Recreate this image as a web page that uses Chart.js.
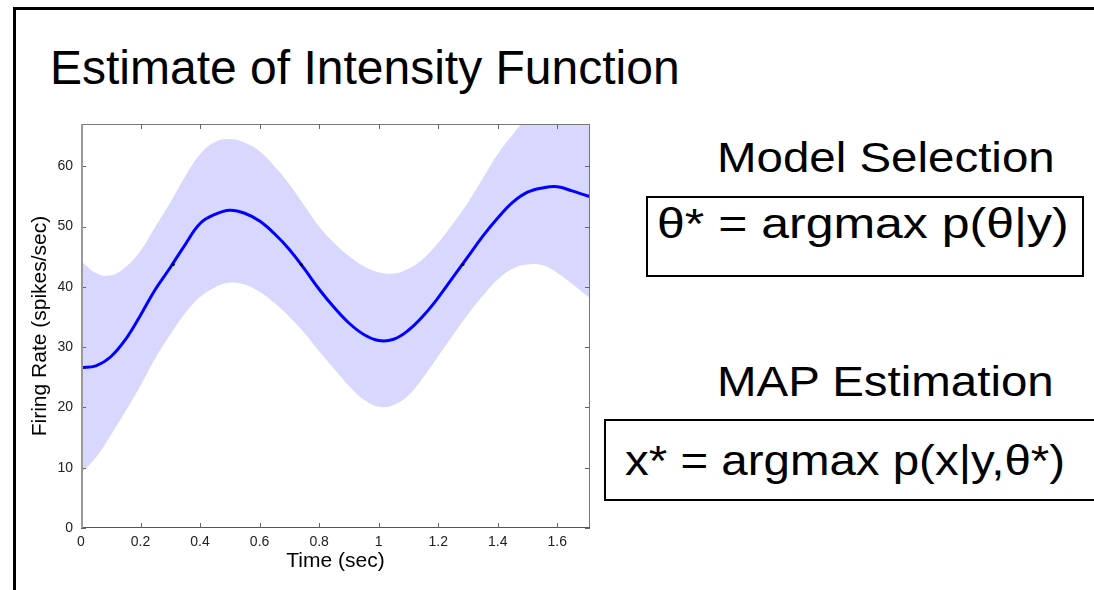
<!DOCTYPE html>
<html>
<head>
<meta charset="utf-8">
<script src="https://cdn.jsdelivr.net/npm/chart.js@4/dist/chart.umd.min.js"></script>
<style>
  html, body { margin: 0; padding: 0; background: #fff; overflow: hidden; }
  body { width: 1094px; height: 590px; position: relative;
         font-family: "Liberation Sans", Arial, Helvetica, sans-serif; color: #000; }
  .frame { position: absolute; left: 13px; top: 7px; width: 1078px; height: 580px;
           border-left: 3px solid #000; border-top: 3px solid #000; }
  .txt { position: absolute; line-height: 1; white-space: nowrap; transform-origin: 0 0; }
  .box { position: absolute; border: 2.5px solid #000; box-sizing: border-box; }
  #plot { position: absolute; left: 0; top: 100px; width: 600px; height: 490px; }
</style>
</head>
<body>
<div class="frame"></div>
<div class="txt" style="left:50px; top:44px; font-size:48px;">Estimate of Intensity Function</div>

<div class="txt" style="left:717px; top:137px; font-size:42px; transform:scaleX(1.13);">Model Selection</div>
<div class="box" style="left:646px; top:196px; width:438px; height:81px;"></div>
<div class="txt" style="left:657px; top:203px; font-size:42px; transform:scaleX(1.19);">θ* = argmax p(θ|y)</div>

<div class="txt" style="left:717px; top:361px; font-size:42px; transform:scaleX(1.13);">MAP Estimation</div>
<div class="box" style="left:604px; top:419px; width:490px; height:82px; border-right:none;"></div>
<div class="txt" style="left:625px; top:440px; font-size:42px; transform:scaleX(1.13);">x* = argmax p(x|y,θ*)</div>

<div id="plot"><canvas id="chart" width="600" height="490"></canvas></div>

<script>
// values
var timeSec = [0, 0.05, 0.1, 0.15, 0.2, 0.25, 0.3, 0.35, 0.4, 0.45, 0.5, 0.55, 0.6, 0.65, 0.7, 0.75, 0.8, 0.85,
               0.9, 0.95, 1.0, 1.05, 1.1, 1.15, 1.2, 1.25, 1.3, 1.35, 1.4, 1.45, 1.5, 1.55, 1.6, 1.65, 1.7, 1.71];
var meanRate = [26.6, 26.9, 28.4, 31.3, 35.3, 39.6, 43.2, 47.0, 50.5, 52.0, 52.7, 52.2, 50.9, 48.8, 46.2, 43.0, 39.6, 36.6,
                34.0, 32.1, 31.1, 31.3, 32.8, 35.2, 38.2, 41.6, 45.0, 48.4, 51.4, 54.0, 55.7, 56.4, 56.6, 55.9, 55.1, 55.0];
var upperRate = [44.3, 42.3, 41.9, 43.3, 46.0, 50.0, 54.0, 58.3, 62.0, 64.0, 64.5, 63.9, 62.5, 60.0, 57.0, 53.5, 50.0, 47.3,
                 45.1, 43.4, 42.4, 42.2, 43.0, 44.7, 47.3, 50.5, 54.0, 58.0, 62.0, 65.2, 68.1, 69.3, 70.0, 70.7, 71.5, 71.6];
var lowerRate = [9.1, 11.7, 15.4, 19.4, 23.6, 28.2, 32.1, 35.6, 38.3, 39.9, 40.7, 40.4, 39.2, 37.3, 35.0, 32.4, 29.3, 26.4,
                 23.6, 21.3, 20.1, 20.4, 22.0, 25.0, 28.5, 32.0, 35.4, 38.5, 41.2, 43.0, 43.7, 43.6, 42.3, 40.5, 38.5, 38.2];
var markTimes = [0.31, 0.74, 1.283];
var markRates = [43.7, 43.7, 43.7];
var xTicks = [0, 0.2, 0.4, 0.6, 0.8, 1, 1.2, 1.4, 1.6];
var yTicks = [0, 10, 20, 30, 40, 50, 60];

function pts(xs, ys) {
    return xs.map(function (x, i) { return { x: x, y: ys[i] }; });
}

// matlab-like axes box with inward ticks on all four sides
var boxPlugin = {
    id: 'matlabBox',
    afterDatasetsDraw: function (chart) {
        var ctx = chart.ctx, a = chart.chartArea;
        var xs = chart.scales.x, ys = chart.scales.y;
        ctx.save();
        ctx.lineWidth = 1;
        ctx.strokeStyle = '#777';
        ctx.beginPath();
        ctx.moveTo(a.left, a.top + 0.5); ctx.lineTo(a.right, a.top + 0.5);
        ctx.moveTo(a.right - 0.5, a.top); ctx.lineTo(a.right - 0.5, a.bottom);
        ctx.stroke();
        ctx.strokeStyle = '#555';
        ctx.beginPath();
        ctx.moveTo(a.left, a.bottom - 0.5); ctx.lineTo(a.right, a.bottom - 0.5);
        ctx.stroke();
        ctx.strokeStyle = '#666';
        xs.ticks.forEach(function (t) {
            var px = Math.round(xs.getPixelForValue(t.value)) + 0.5;
            ctx.beginPath();
            ctx.moveTo(px, a.bottom); ctx.lineTo(px, a.bottom - 5);
            ctx.moveTo(px, a.top); ctx.lineTo(px, a.top + 5);
            ctx.stroke();
        });
        ys.ticks.forEach(function (t) {
            var py = Math.round(ys.getPixelForValue(t.value)) + 0.5;
            ctx.beginPath();
            ctx.moveTo(a.left, py); ctx.lineTo(a.left + 5, py);
            ctx.moveTo(a.right, py); ctx.lineTo(a.right - 5, py);
            ctx.stroke();
        });
        ctx.strokeStyle = '#999';
        ctx.lineWidth = 2;
        ctx.beginPath();
        ctx.moveTo(a.left + 1, a.top); ctx.lineTo(a.left + 1, a.bottom);
        ctx.stroke();
        ctx.restore();
    }
};

var tickFont = { family: '"Liberation Sans", Arial, Helvetica, sans-serif', size: 14 };
var titleFont = { family: '"Liberation Sans", Arial, Helvetica, sans-serif', size: 21 };

new Chart(document.getElementById('chart'), {
    type: 'line',
    data: {
        datasets: [{
            data: pts(markTimes, markRates),
            showLine: false,
            pointRadius: 1.6,
            pointBackgroundColor: '#000',
            pointBorderWidth: 0
        }, {
            data: pts(timeSec, meanRate),
            borderColor: '#0000ff',
            borderWidth: 3,
            pointRadius: 0,
            tension: 0.4,
            fill: false
        }, {
            data: pts(timeSec, upperRate),
            borderWidth: 0,
            borderColor: 'rgba(0,0,0,0)',
            backgroundColor: '#d8d8ff',
            pointRadius: 0,
            tension: 0.4,
            fill: '+1'
        }, {
            data: pts(timeSec, lowerRate),
            borderWidth: 0,
            borderColor: 'rgba(0,0,0,0)',
            pointRadius: 0,
            tension: 0.4,
            fill: false
        }]
    },
    options: {
        responsive: false,
        animation: false,
        layout: { padding: { left: 0, right: 10, top: 24, bottom: 0 } },
        plugins: { legend: { display: false }, tooltip: { enabled: false } },
        scales: {
            x: {
                type: 'linear',
                min: 0,
                max: 1.71,
                afterBuildTicks: function (s) { s.ticks = xTicks.map(function (v) { return { value: v }; }); },
                afterFit: function (s) { s.height = 62; },
                grid: { display: false, drawTicks: false },
                border: { display: false },
                ticks: {
                    font: tickFont, color: '#222', padding: 6, maxRotation: 0, autoSkip: false,
                    callback: function (v) { return String(Math.round(v * 10) / 10); }
                },
                title: { display: true, text: 'Time (sec)', font: titleFont, color: '#000',
                         padding: { top: 0, bottom: 16 } }
            },
            y: {
                min: 0,
                max: 67,
                afterBuildTicks: function (s) { s.ticks = yTicks.map(function (v) { return { value: v }; }); },
                afterFit: function (s) { s.width = 81; },
                grid: { display: false, drawTicks: false },
                border: { display: false },
                ticks: { font: tickFont, color: '#222', padding: 8, autoSkip: false },
                title: { display: true, text: 'Firing Rate (spikes/sec)', font: titleFont, color: '#000',
                         padding: { top: 28, bottom: 0 } }
            }
        }
    },
    plugins: [boxPlugin]
});
</script>
</body>
</html>
